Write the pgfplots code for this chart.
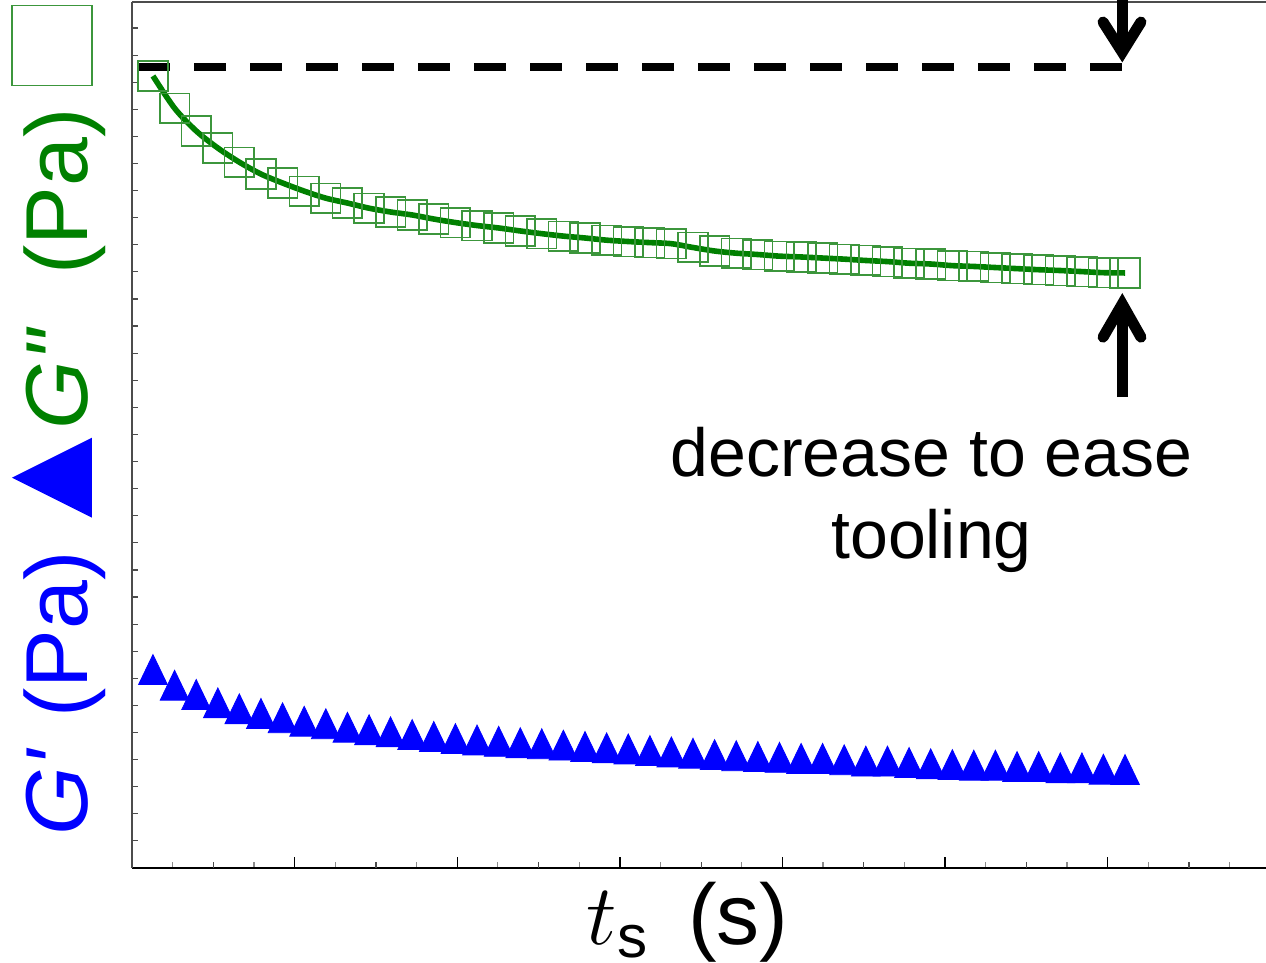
\RequirePackage{fix-cm}
\documentclass[border=0pt]{standalone}
\usepackage{pgfplots}
\pgfplotsset{compat=1.18}
\usepackage{pgfplotstable}
\usepackage{amsmath}
\usepackage{fontspec}
\setmainfont{Liberation Sans}

\definecolor{gline}{RGB}{0,128,0}
\definecolor{gmark}{RGB}{60,150,60}
\definecolor{bmark}{RGB}{0,0,255}

\pgfplotstableread{
x g b
0.129 29.23 7.14
0.262 28.04 6.56
0.395 27.20 6.22
0.528 26.57 5.91
0.660 26.05 5.69
0.793 25.61 5.52
0.926 25.28 5.36
1.059 24.98 5.23
1.192 24.72 5.14
1.325 24.54 5.01
1.458 24.35 4.92
1.590 24.21 4.84
1.723 24.10 4.74
1.856 23.95 4.67
1.989 23.82 4.59
2.122 23.71 4.54
2.255 23.62 4.49
2.388 23.51 4.44
2.520 23.41 4.40
2.653 23.32 4.35
2.786 23.25 4.30
2.919 23.17 4.25
3.052 23.12 4.21
3.185 23.08 4.15
3.317 23.04 4.10
3.450 22.90 4.05
3.583 22.77 4.00
3.716 22.69 3.96
3.849 22.64 3.93
3.982 22.58 3.90
4.115 22.55 3.86
4.247 22.51 3.86
4.380 22.47 3.81
4.513 22.42 3.76
4.646 22.38 3.76
4.779 22.32 3.71
4.912 22.29 3.66
5.045 22.23 3.63
5.177 22.20 3.61
5.310 22.16 3.61
5.443 22.12 3.56
5.576 22.08 3.56
5.709 22.05 3.51
5.842 22.01 3.51
5.974 21.97 3.46
6.107 21.96 3.45
}\data

\begin{document}
\begin{tikzpicture}
\begin{axis}[
  scale only axis, width=567pt, height=433pt,
  xmin=0, xmax=6.974, ymin=0, ymax=31.96,
  axis lines*=left, axis line style={-},
  x axis line style={black, line width=1pt},
  y axis line style={black!70, line width=1pt},
  xtick={1,...,6},
  minor xtick={0.25,0.75,1.25,1.75,2.25,2.75,3.25,3.75,4.25,4.75,5.25,5.75,6.25,6.75},
  extra x ticks={0.5,1.5,2.5,3.5,4.5,5.5,6.5},
  extra x tick labels={},
  extra y ticks={1,2,...,31},
  extra y tick labels={},
  extra tick style={major tick length=3.2pt, /pgfplots/every major tick/.append style={black!70, line width=0.6pt}},
  ytick=\empty,
  xticklabels={}, yticklabels={},
  major tick length=5.5pt, minor tick length=2.8pt,
  every major tick/.append style={black, line width=0.7pt},
  every minor tick/.append style={black!45, line width=0.6pt},
  clip=false,
  xlabel={\fontsize{43}{50}\selectfont $t_{\text{s}}$\hspace{20pt}(s)},
  xlabel style={at={([yshift=-38.5pt]rel axis cs:0.49,0)}, anchor=base},
  ylabel={\fontsize{44}{52}\selectfont\color{bmark}\textit{G\textquotesingle}\hspace{15pt}(Pa)\hspace{17pt}\tikz[baseline=0pt]\fill[bmark](0,-2pt)--(40pt,-2pt)--(20pt,38pt)--cycle;\hspace{4pt}\color{gline}\textit{G\textquotedbl}\hspace{26pt}(Pa)\hspace{11pt}\tikz[baseline=0pt]\draw[gmark,line width=0.8pt](0,-2pt) rectangle (40pt,38pt);},
  ylabel style={at={([xshift=-22pt]rel axis cs:0,0.517)}, anchor=base},
]
\draw[black!70, line width=0.8pt] (rel axis cs:0,1) -- (rel axis cs:1,1);

\draw[black, line width=3.7pt, dash pattern=on 16pt off 12pt] (axis cs:0.037,29.56) -- (axis cs:6.092,29.56);

\draw[black, line width=5.5pt] (axis cs:6.090,32.4) -- (axis cs:6.090,30.3);
\draw[black, line width=5.5pt, line cap=round, line join=miter] (axis cs:5.972,31.22) -- (axis cs:6.090,30.11) -- (axis cs:6.205,31.22);

\draw[black, line width=5.5pt] (axis cs:6.090,17.38) -- (axis cs:6.090,20.6);
\draw[black, line width=5.5pt, line cap=round, line join=miter] (axis cs:5.972,19.59) -- (axis cs:6.090,20.81) -- (axis cs:6.205,19.59);

\addplot[only marks, mark=square, mark size=7.4pt, mark options={gmark, line width=0.8pt}] table[x=x, y=g] {\data};
\addplot[gline, line width=2.8pt, smooth, no markers] table[x=x, y=g] {\data};
\addplot[only marks, mark=triangle*, mark size=8.3pt, mark options={bmark, fill=bmark, yscale=1.2}] table[x=x, y=b] {\data};

\node[anchor=base, font=\fontsize{34}{41}\selectfont] at (axis cs:4.917,14.46) {decrease to ease};
\node[anchor=base, font=\fontsize{34}{41}\selectfont] at (axis cs:4.917,11.44) {tooling};
\end{axis}
\pgfresetboundingbox
\path (-66pt,-47.5pt) rectangle (567pt,434pt);
\end{tikzpicture}
\end{document}
